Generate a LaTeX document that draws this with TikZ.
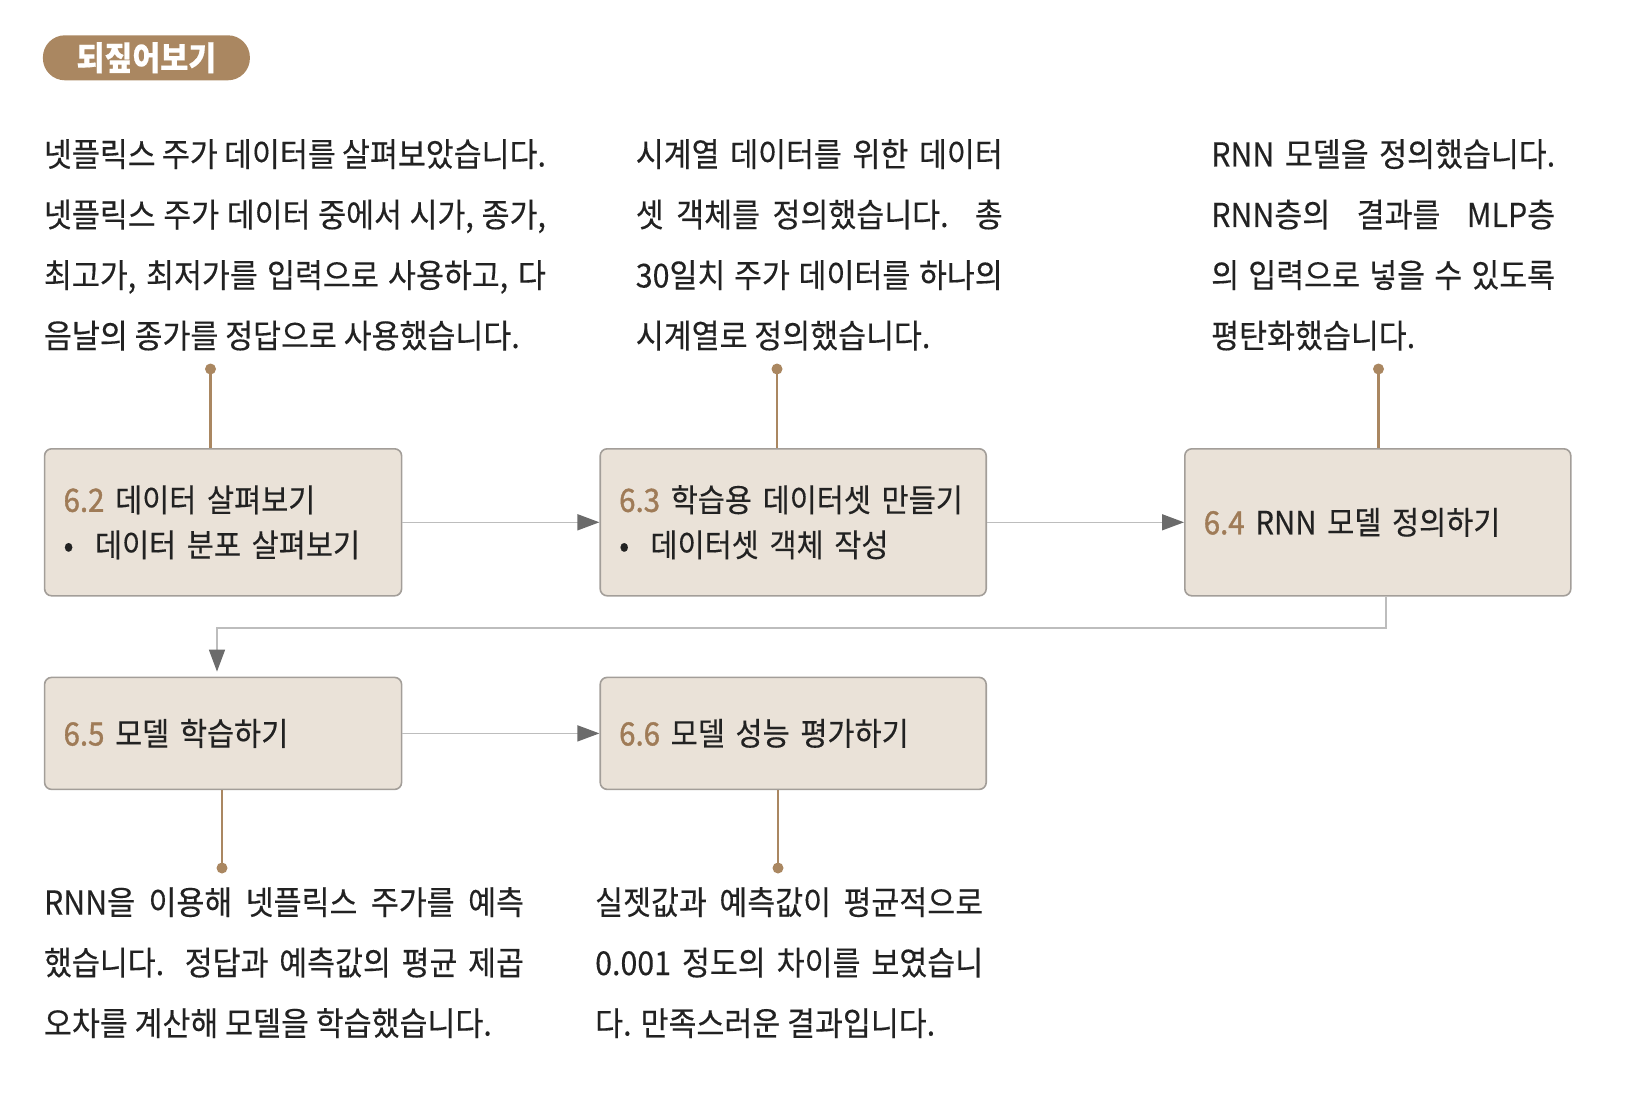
\documentclass[tikz,border=0pt]{standalone}
\usepackage{fontspec}
\setmainfont{Noto Sans CJK KR}[FakeStretch=0.92,FakeBold=0.3]
\newfontfamily\numfont{Noto Sans CJK KR}[FakeStretch=0.92,FakeBold=1.2]
\usetikzlibrary{arrows.meta,positioning}

\definecolor{tanbrown}{HTML}{AA8761}
\definecolor{numbrown}{HTML}{9F7B57}
\definecolor{boxfill}{HTML}{EAE2D8}
\definecolor{boxline}{HTML}{A39E99}
\definecolor{flowgrey}{HTML}{BDBDBD}
\definecolor{headgrey}{HTML}{6B6B6B}
\definecolor{ink}{HTML}{222222}

\newcommand{\fullline}[2]{\makebox[#1][s]{#2}}
\newcommand{\secno}[1]{\textcolor{numbrown}{\numfont #1}}

\tikzset{>=latex}

\begin{document}
\begin{tikzpicture}[x=1pt,y=-1pt,
    stage/.style={draw=boxline,fill=boxfill,line width=1.6pt,rounded corners=7pt,
      inner xsep=19pt,inner ysep=0pt,align=left,anchor=north west,text=ink,
      font=\fontsize{32}{45}\selectfont},
    note/.style={anchor=north west,inner sep=0pt,align=left,text=ink,
      font=\fontsize{33}{60.5}\selectfont},
    badge/.style={fill=tanbrown,rounded corners=22pt,minimum width=207pt,
      minimum height=45pt,inner sep=0pt,text=white,
      font=\bfseries\fontsize{33}{33}\selectfont},
    flow/.style={draw=flowgrey,line width=1.6pt,
      -{Triangle[length=22pt,width=16pt,color=headgrey]}},
    pin/.style={draw=tanbrown,line width=2.6pt}]
  \useasboundingbox (0,0) rectangle (1634,1110);

  \node[badge] (recap) at (146.4,57.8) {되짚어보기};

  % stages
  \node[stage,text width=319pt,minimum height=147pt] (box62) at (43.8,448)
    {\secno{6.2} 데이터 살펴보기\\• \ 데이터 분포 살펴보기};
  \node[stage,text width=348pt,minimum height=147pt,right=197pt of box62] (box63)
    {\secno{6.3} 학습용 데이터셋 만들기\\• \ 데이터셋 객체 작성};
  \node[stage,text width=348pt,minimum height=147pt,right=197pt of box63] (box64)
    {\secno{6.4} RNN 모델 정의하기};
  \node[stage,text width=319pt,minimum height=112pt,below=80pt of box62] (box65)
    {\secno{6.5} 모델 학습하기};
  \node[stage,text width=348pt,minimum height=112pt,right=197pt of box65] (box66)
    {\secno{6.6} 모델 성능 평가하기};

  \draw[flow] (box62.east) -- (box63.west);
  \draw[flow] (box63.east) -- (box64.west);
  \coordinate (drop) at (1386,628);
  \coordinate (bend) at (217,628);
  \draw[flow,shorten >=5pt] (box64.south -| drop) -- (drop) -- (bend) -- (bend |- box65.north);
  \draw[flow] (box65.east) -- (box66.west);

  % notes
  \node[note] (note62) at (43.8,139) {%
    \fullline{502pt}{넷플릭스 주가 데이터를 살펴보았습니다.}\\
    \fullline{502pt}{넷플릭스 주가 데이터 중에서 시가, 종가,}\\
    \fullline{502pt}{최고가, 최저가를 입력으로 사용하고, 다}\\
    음날의 종가를 정답으로 사용했습니다.};
  \node[note] (note63) at (635.6,139) {%
    \fullline{367pt}{시계열 데이터를 위한 데이터}\\
    \fullline{367pt}{셋 객체를 정의했습니다. 총}\\
    \fullline{367pt}{30일치 주가 데이터를 하나의}\\
    시계열로 정의했습니다.};
  \node[note] (note64) at (1211,139) {%
    \fullline{344pt}{RNN 모델을 정의했습니다.}\\
    \fullline{344pt}{RNN층의 결과를 MLP층}\\
    \fullline{344pt}{의 입력으로 넣을 수 있도록}\\
    평탄화했습니다.};
  \node[note] (note65) at (43.8,887) {%
    \fullline{480pt}{RNN을 이용해 넷플릭스 주가를 예측}\\
    \fullline{480pt}{했습니다. 정답과 예측값의 평균 제곱}\\
    오차를 계산해 모델을 학습했습니다.};
  \node[note] (note66) at (595,887) {%
    \fullline{388pt}{실젯값과 예측값이 평균적으로}\\
    \fullline{388pt}{0.001 정도의 차이를 보였습니}\\
    다. 만족스러운 결과입니다.};

  % pins from notes to stages
  \foreach \b/\side/\x/\y in {box62/north/210.5/369,box63/north/777/369,
      box64/north/1378.5/369,box65/south/222/868,box66/south/778/868} {
    \coordinate (tip) at (\x,\y);
    \draw[pin] (tip) -- (tip |- \b.\side);
    \fill[tanbrown] (tip) circle (5.5pt);
  }
\end{tikzpicture}
\end{document}
